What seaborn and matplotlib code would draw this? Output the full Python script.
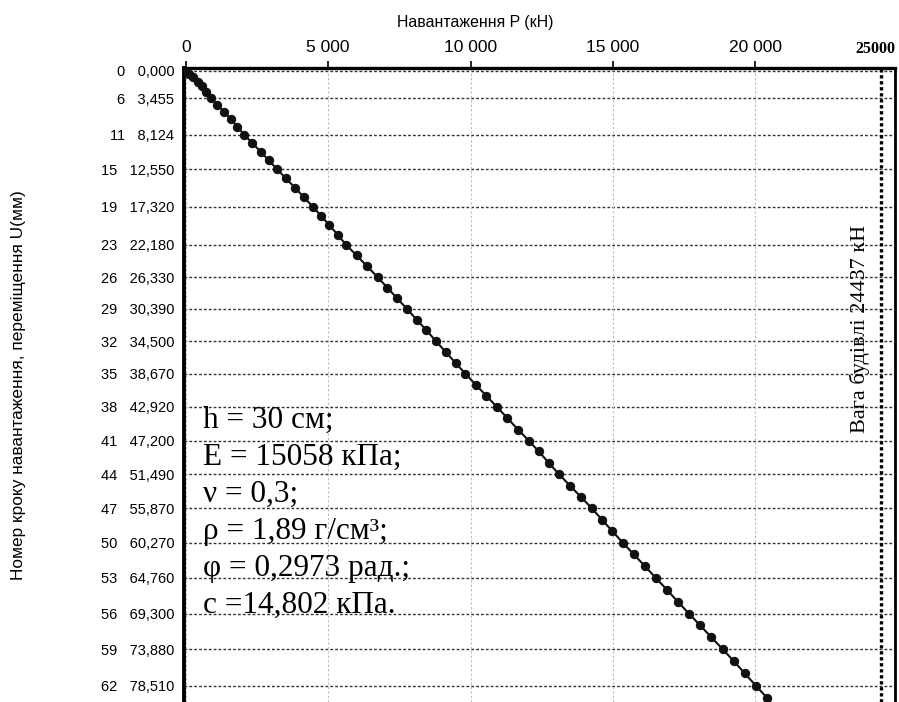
import numpy as np
import pandas as pd
import matplotlib
matplotlib.use("Agg")
import matplotlib.pyplot as plt
import seaborn as sns

# номер кроку навантаження
steps = list(range(0, 64))
# переміщення U (мм)
disp = [0.000, 0.35, 0.80, 1.35, 1.95, 2.65, 3.455, 4.30, 5.20, 6.15,
        7.10, 8.124, 9.20, 10.30, 11.40, 12.550, 13.70, 14.90, 16.10, 17.320,
        18.50, 19.70, 20.90, 22.180, 23.55, 24.95, 26.330, 27.70, 29.05, 30.390,
        31.75, 33.10, 34.500, 35.90, 37.30, 38.670, 40.10, 41.50, 42.920, 44.35,
        45.80, 47.200, 48.60, 50.05, 51.490, 52.95, 54.40, 55.870, 57.35, 58.80,
        60.270, 61.75, 63.25, 64.760, 66.25, 67.80, 69.300, 70.80, 72.35, 73.880,
        75.40, 76.95, 78.510, 80.05]
# навантаження P (кН)
load = [0, 120, 260, 410, 560, 715, 868, 1100, 1335, 1570,
        1805, 2038, 2330, 2620, 2910, 3198, 3510, 3825, 4140, 4452,
        4745, 5040, 5330, 5622, 5995, 6365, 6736, 7080, 7425, 7766,
        8105, 8445, 8785, 9130, 9475, 9822, 10190, 10560, 10929, 11300,
        11670, 12042, 12400, 12750, 13107, 13490, 13880, 14267, 14630, 14990,
        15356, 15740, 16130, 16516, 16900, 17290, 17675, 18070, 18470, 18870,
        19260, 19640, 20030, 20416]

tick_steps = [0, 6, 11, 15, 19, 23, 26, 29, 32, 35, 38, 41, 44, 47, 50, 53, 56, 59, 62]
x_ticks = [0, 5000, 10000, 15000, 20000]
x_tick_labels = ["0", "5 000", "10 000", "15 000", "20 000"]
building_weight = 24437

params = ["h = 30 см;", "E = 15058 кПа;", "ν = 0,3;", "ρ = 1,89 г/см³;",
          "φ = 0,2973 рад.;", "c =14,802 кПа."]

df = pd.DataFrame({"step": steps, "U": disp, "P": load})

sns.set_theme(style="white")
plt.rcParams['font.family'] = ['Liberation Sans', 'DejaVu Sans']
plt.rcParams['text.color'] = 'black'
plt.rcParams['axes.labelcolor'] = 'black'
serif = ["Liberation Serif", "DejaVu Serif"]

fig = plt.figure(figsize=(8.99, 7.02), dpi=100)
ax = fig.add_axes([184 / 899, 0.0, 711 / 899, 1 - 68 / 702])

sns.lineplot(data=df, x="P", y="U", sort=False, estimator=None, ax=ax,
             color="#111111", lw=1.5, marker="o", markersize=6,
             markeredgecolor="#111111", zorder=5)

ax.set_xlim(-70, 24920)
ax.set_ylim(80.6, -0.38)

# осі
ax.xaxis.tick_top()
ax.xaxis.set_label_position("top")
ax.set_xticks(x_ticks)
ax.set_xticklabels(x_tick_labels, fontsize=12.5)
tick_u = [df.loc[df.step == s, "U"].iloc[0] for s in tick_steps]
ax.set_yticks(tick_u)
ax.set_yticklabels([f"{s}   {u:.3f}".replace(".", ",") for s, u in zip(tick_steps, tick_u)],
                   fontsize=10.5)
ax.tick_params(axis="x", direction="out", length=5, width=1.2, pad=4, colors="black")
ax.tick_params(axis="y", direction="out", length=5, width=1.2, pad=2, colors="black")

ax.set_xlabel("Навантаження P (кН)", fontsize=11.4)
ax.xaxis.set_label_coords(0.41, 1.065)
ax.set_ylabel("Номер кроку навантаження, переміщення U(мм)", fontsize=12.4)
ax.yaxis.set_label_coords(-0.222, 0.5)

for side in ["top", "left", "right"]:
    ax.spines[side].set_color("black")
ax.spines["top"].set_linewidth(2.4)
ax.spines["left"].set_linewidth(2.8)
ax.spines["right"].set_linewidth(2.0)
ax.spines["bottom"].set_visible(False)

# сітка
for u in tick_u:
    ax.axhline(u, color="#333333", lw=1.0, ls=(0, (2, 1.5)), zorder=1)
for xv in x_ticks:
    ax.axvline(xv, color="#bbbbbb", lw=0.8, ls=(0, (2, 2)), zorder=1)

# вага будівлі
ax.axvline(building_weight, color="black", lw=2.4, ls=(0, (1, 0.8)), zorder=3)
ax.text(building_weight - 760, 33.0, f"Вага будівлі {building_weight} кН", rotation=90,
        ha="center", va="center", fontsize=16, family=serif)

ax.text(1.0, 1.03, "25000", transform=ax.transAxes, ha="right", va="center",
        fontsize=11.5, fontweight="bold", family=serif)

# параметри ґрунту
for i, line in enumerate(params):
    fig.text(203 / 899, 1 - (428 + 37 * i) / 702, line, ha="left", va="baseline",
             fontsize=22.5, family=serif)

fig.savefig("out.png", dpi=100)
